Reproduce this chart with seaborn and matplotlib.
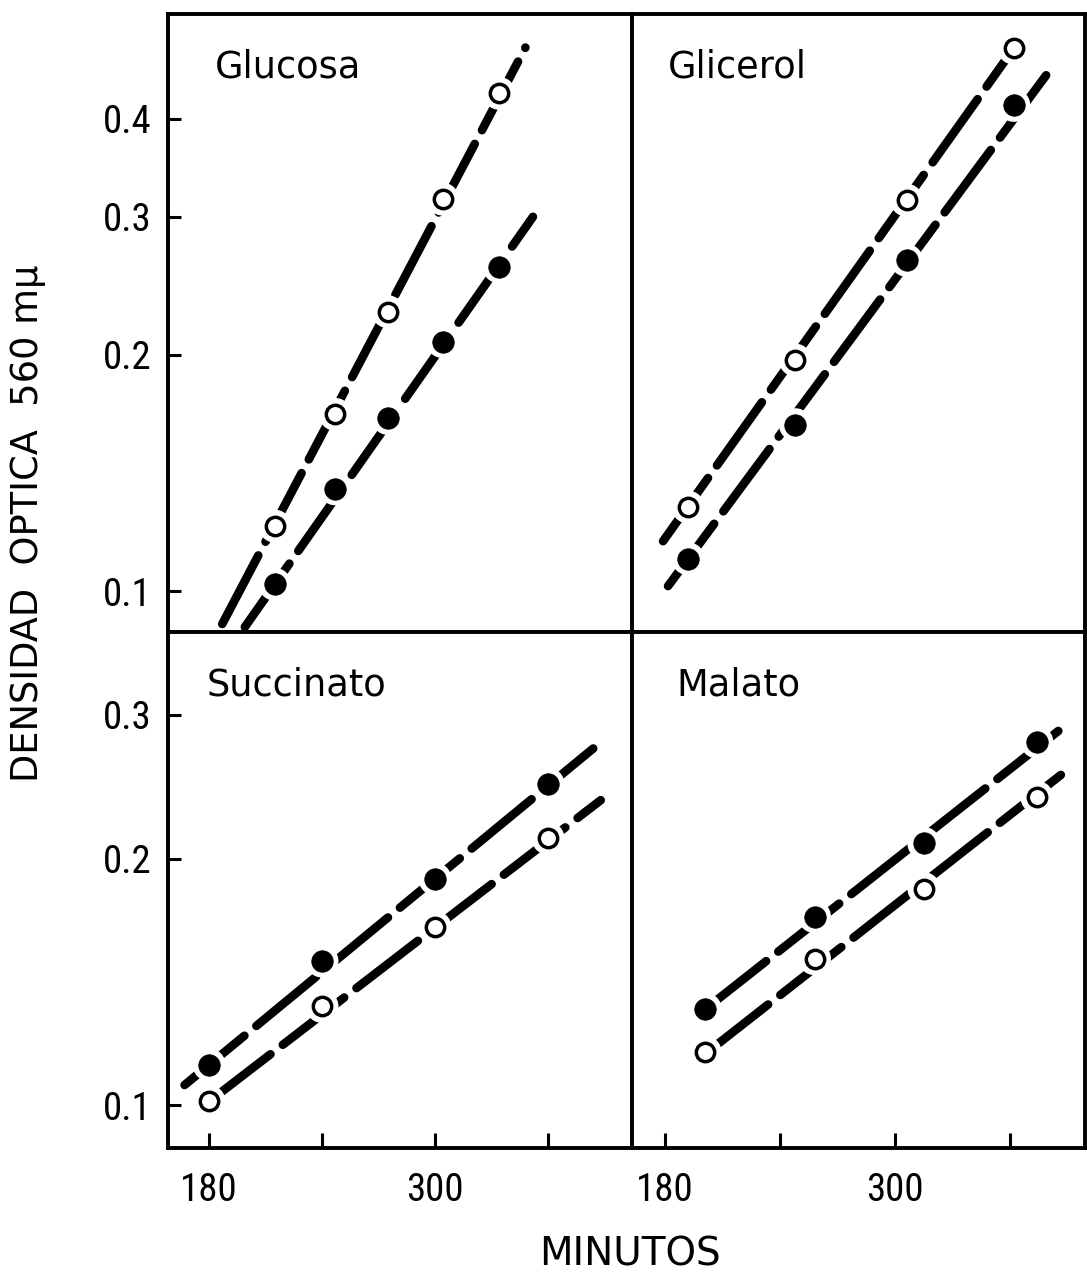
import matplotlib
matplotlib.use("Agg")
import matplotlib.pyplot as plt
import seaborn as sns
from matplotlib import font_manager
from matplotlib.ticker import FixedLocator, FixedFormatter, NullLocator

# ---- data: optical density (560 mμ) vs time (minutes) ----
# Glucosa
glucosa_t = [215, 247, 275, 304, 334]
glucosa_open = [0.121, 0.168, 0.227, 0.316, 0.431]
glucosa_filled = [0.102, 0.135, 0.166, 0.208, 0.259]
glucosa_fit_open_t = [187, 348]
glucosa_fit_open = [0.0908, 0.493]
glucosa_fit_filled_t = [199, 352]
glucosa_fit_filled = [0.0900, 0.300]

# Glicerol
glicerol_t = [192, 248, 306, 362]
glicerol_open = [0.128, 0.197, 0.315, 0.492]
glicerol_filled = [0.110, 0.163, 0.264, 0.416]
glicerol_fit_open_t = [179, 362]
glicerol_fit_open = [0.1158, 0.492]
glicerol_fit_filled_t = [181.6, 382.4]
glicerol_fit_filled = [0.1015, 0.467]

# Succinato
succinato_t = [180, 240, 300, 360]
succinato_open = [0.101, 0.132, 0.165, 0.212]
succinato_filled = [0.112, 0.150, 0.189, 0.247]
succinato_fit_open_t = [180, 388]
succinato_fit_open = [0.101, 0.236]
succinato_fit_filled_t = [167, 384]
succinato_fit_filled = [0.1058, 0.273]

# Malato
malato_t = [201, 258, 315, 374]
malato_open = [0.116, 0.151, 0.184, 0.238]
malato_filled = [0.131, 0.170, 0.209, 0.278]
malato_fit_open_t = [202, 388]
malato_fit_open = [0.116, 0.255]
malato_fit_filled_t = [201, 391]
malato_fit_filled = [0.131, 0.294]

top_yticks = [0.1, 0.2, 0.3, 0.4]
top_ylabels = ["0.1", "0.2", "0.3", "0.4"]
bottom_yticks = [0.1, 0.2, 0.3]
bottom_ylabels = ["0.1", "0.2", "0.3"]
xticks = [180, 240, 300, 360]
xlabels = ["180", "", "300", ""]

sns.set_theme(style="white")
plt.rcParams["font.family"] = ["DejaVu Sans"]
plt.rcParams["axes.edgecolor"] = "black"

# narrow face for the tick numbers if one is installed
names = {f.name for f in font_manager.fontManager.ttflist}
narrow_candidates = ["Liberation Sans Narrow", "DejaVu Sans Condensed",
                     "Roboto Condensed", "Open Sans Condensed"]
narrow = next((n for n in narrow_candidates if n in names), None)
tick_font = dict(family=[narrow] if narrow else ["DejaVu Sans"],
                 size=28 if narrow else 24.5)

W, Hpx = 1087, 1281
fig = plt.figure(figsize=(W / 100, Hpx / 100), dpi=100)
fig.patch.set_facecolor("white")

L, M, R = 168 / W, 632 / W, 1085 / W
T, MID, B = 1 - 14 / Hpx, 1 - 632 / Hpx, 1 - 1148 / Hpx

ax_gl = fig.add_axes([L, MID, M - L, T - MID])
ax_gc = fig.add_axes([M, MID, R - M, T - MID])
ax_su = fig.add_axes([L, B, M - L, MID - B])
ax_ma = fig.add_axes([M, B, R - M, MID - B])

LW = 6.2


def fit_line(ax, t, v):
    sns.lineplot(x=t, y=v, ax=ax, color="black", lw=LW, estimator=None,
                 sort=False, zorder=2)
    ln = ax.lines[-1]
    ln.set_dashes([9, 1.8])
    ln.set_dash_capstyle("round")


def points(ax, t, v, filled):
    # white halo leaves a gap in the line around each point
    sns.scatterplot(x=t, y=v, ax=ax, s=560, color="white", edgecolor="none",
                    legend=False, zorder=3)
    if filled:
        sns.scatterplot(x=t, y=v, ax=ax, s=240, color="black",
                        edgecolor="black", linewidth=0.5, legend=False, zorder=4)
    else:
        sns.scatterplot(x=t, y=v, ax=ax, s=175, color="white",
                        edgecolor="black", linewidth=2.5, legend=False, zorder=4)


def panel(ax, title, t_open, v_open, t_fill, v_fill, fo_t, fo, ff_t, ff, tx, ty):
    fit_line(ax, fo_t, fo)
    fit_line(ax, ff_t, ff)
    points(ax, t_open, v_open, False)
    points(ax, t_fill, v_fill, True)
    ax.set_yscale("log")
    ax.text(tx, ty, title, transform=ax.transAxes, ha="left", va="center",
            fontsize=26.5, color="black")
    for s in ax.spines.values():
        s.set_linewidth(2.8)
        s.set_color("black")
    ax.set_xlabel("")
    ax.set_ylabel("")
    ax.set_facecolor("white")


panel(ax_gl, "Glucosa", glucosa_t, glucosa_open, glucosa_t, glucosa_filled,
      glucosa_fit_open_t, glucosa_fit_open, glucosa_fit_filled_t,
      glucosa_fit_filled, 0.101, 0.915)
panel(ax_gc, "Glicerol", glicerol_t, glicerol_open, glicerol_t, glicerol_filled,
      glicerol_fit_open_t, glicerol_fit_open, glicerol_fit_filled_t,
      glicerol_fit_filled, 0.080, 0.915)
panel(ax_su, "Succinato", succinato_t, succinato_open, succinato_t,
      succinato_filled, succinato_fit_open_t, succinato_fit_open,
      succinato_fit_filled_t, succinato_fit_filled, 0.084, 0.897)
panel(ax_ma, "Malato", malato_t, malato_open, malato_t, malato_filled,
      malato_fit_open_t, malato_fit_open, malato_fit_filled_t,
      malato_fit_filled, 0.099, 0.897)

# axis ranges
for ax in (ax_gl, ax_su):
    ax.set_xlim(158.2, 404.6)
for ax in (ax_gc, ax_ma):
    ax.set_xlim(162.8, 399.1)
for ax in (ax_gl, ax_gc):
    ax.set_ylim(0.0887, 0.544)
for ax in (ax_su, ax_ma):
    ax.set_ylim(0.0886, 0.379)

# ticks
for ax in (ax_gl, ax_gc, ax_su, ax_ma):
    ax.yaxis.set_minor_locator(NullLocator())
    ax.xaxis.set_minor_locator(NullLocator())
    ax.tick_params(which="both", direction="in", color="black",
                   labelcolor="black")

ax_gl.yaxis.set_major_locator(FixedLocator(top_yticks))
ax_gl.yaxis.set_major_formatter(FixedFormatter(top_ylabels))
ax_su.yaxis.set_major_locator(FixedLocator(bottom_yticks))
ax_su.yaxis.set_major_formatter(FixedFormatter(bottom_ylabels))
for ax in (ax_gl, ax_su):
    ax.tick_params(axis="y", left=True, length=9, width=2.2, pad=12)
for ax in (ax_gc, ax_ma):
    ax.tick_params(axis="y", left=False, labelleft=False)
    ax.yaxis.set_major_locator(NullLocator())

for ax in (ax_gl, ax_gc):
    ax.tick_params(axis="x", bottom=False, labelbottom=False)
    ax.xaxis.set_major_locator(NullLocator())
for ax in (ax_su, ax_ma):
    ax.xaxis.set_major_locator(FixedLocator(xticks))
    ax.xaxis.set_major_formatter(FixedFormatter(xlabels))
    ax.tick_params(axis="x", bottom=True, length=11, width=2.2, pad=17)

for ax in (ax_gl, ax_gc, ax_su, ax_ma):
    for lab in ax.get_xticklabels() + ax.get_yticklabels():
        lab.set_family(tick_font["family"])
        lab.set_fontsize(tick_font["size"])

fig.text(28 / W, 1 - 523 / Hpx, "DENSIDAD  OPTICA  560 m\u03bc", rotation=90,
         ha="center", va="center", fontsize=26.5, color="black")
fig.text(630 / W, 1 - 1255 / Hpx, "MINUTOS", ha="center", va="center",
         fontsize=28, color="black")

fig.savefig("out.png", dpi=100, facecolor="white")
